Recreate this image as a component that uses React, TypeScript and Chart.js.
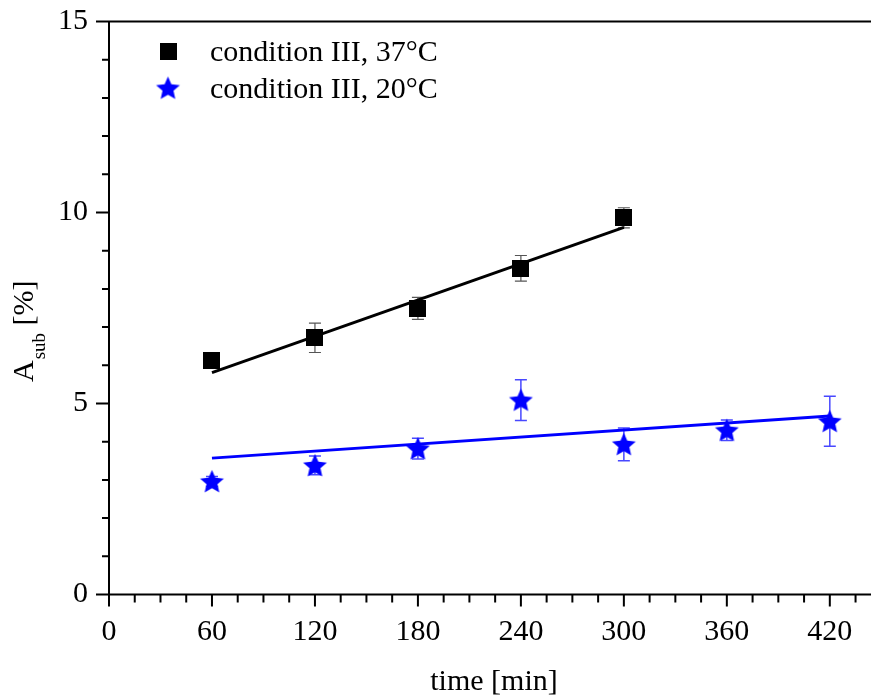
import React, { useEffect, useRef } from 'react';
import { Chart, registerables } from 'chart.js';

Chart.register(...registerables);

// ---- data ----
const time37 = [60, 120, 180, 240, 300];
const asub37 = [6.13, 6.72, 7.49, 8.54, 9.86];
const err37 = [0.1, 0.385, 0.29, 0.335, 0.265];

const time20 = [60, 120, 180, 240, 300, 360, 420];
const asub20 = [2.96, 3.38, 3.82, 5.09, 3.93, 4.3, 4.535];
const err20 = [0.13, 0.245, 0.27, 0.535, 0.43, 0.27, 0.655];

const fit37X = [60, 300];
const fit37Y = [5.81, 9.61];
const fit20X = [60, 420];
const fit20Y = [3.57, 4.67];

const legendLabels = ['condition III, 37°C', 'condition III, 20°C'];
const xTitle = 'time [min]';
const yTitleMain = 'A';
const yTitleSub = 'sub';
const yTitleRest = ' [%]';

const xMin = 0;
const xMax = 444;
const xMajorStep = 60;
const xMinorStep = 15;
const yMin = 0;
const yMax = 15;
const yMajorStep = 5;
const yMinorStep = 1;

const BLUE = '#0000ff';
const FONT = '"Liberation Serif", "Times New Roman", serif';
const FS = 30;

function makeSquare(size: number, color: string) {
  const c = document.createElement('canvas');
  c.width = size;
  c.height = size;
  const ctx = c.getContext('2d')!;
  ctx.fillStyle = color;
  ctx.fillRect(0, 0, size, size);
  return c;
}

function makeStar(r: number, innerRatio: number, color: string) {
  const s = Math.ceil(2 * r + 2);
  const c = document.createElement('canvas');
  c.width = s;
  c.height = s;
  const ctx = c.getContext('2d')!;
  const cx = s / 2;
  const cy = s / 2 + r * 0.08;
  ctx.beginPath();
  for (let i = 0; i < 10; i++) {
    const rad = i % 2 === 0 ? r : r * innerRatio;
    const a = -Math.PI / 2 + (i * Math.PI) / 5;
    const px = cx + rad * Math.cos(a);
    const py = cy + rad * Math.sin(a);
    if (i === 0) ctx.moveTo(px, py);
    else ctx.lineTo(px, py);
  }
  ctx.closePath();
  ctx.fillStyle = color;
  ctx.fill();
  return c;
}

export default function App() {
  const ref = useRef<HTMLCanvasElement>(null);

  useEffect(() => {
    const canvas = ref.current!;
    const square = makeSquare(17, '#000');
    const star = makeStar(12.5, 0.46, BLUE);

    const errorSets = [
      { xs: time37, ys: asub37, es: err37, color: '#555555', width: 1.2 },
      { xs: time20, ys: asub20, es: err20, color: 'rgba(40,40,255,0.85)', width: 1.5 },
    ];

    const decor = {
      id: 'decor',
      beforeDatasetsDraw(chart: any) {
        const ctx = chart.ctx;
        const xs = chart.scales.x;
        const ys = chart.scales.y;
        ctx.save();
        errorSets.forEach((set) => {
          ctx.strokeStyle = set.color;
          ctx.lineWidth = set.width;
          set.xs.forEach((xv, i) => {
            const px = xs.getPixelForValue(xv);
            const top = ys.getPixelForValue(set.ys[i] + set.es[i]);
            const bot = ys.getPixelForValue(set.ys[i] - set.es[i]);
            ctx.beginPath();
            ctx.moveTo(px, top);
            ctx.lineTo(px, bot);
            ctx.moveTo(px - 6, top);
            ctx.lineTo(px + 6, top);
            ctx.moveTo(px - 6, bot);
            ctx.lineTo(px + 6, bot);
            ctx.stroke();
          });
        });
        ctx.restore();
      },
      afterDraw(chart: any) {
        const ctx = chart.ctx;
        const a = chart.chartArea;
        const xs = chart.scales.x;
        const ys = chart.scales.y;
        ctx.save();
        ctx.strokeStyle = '#000';
        ctx.lineWidth = 2;
        // axes lines
        ctx.beginPath();
        ctx.moveTo(a.left, a.top);
        ctx.lineTo(a.left, a.bottom + 1);
        ctx.moveTo(a.left - 1, a.bottom);
        ctx.lineTo(chart.width, a.bottom);
        ctx.moveTo(a.left, a.top);
        ctx.lineTo(chart.width, a.top);
        ctx.stroke();
        // y ticks
        ctx.beginPath();
        for (let v = yMin; v <= yMax + 1e-9; v += yMinorStep) {
          const py = ys.getPixelForValue(v);
          const major = Math.abs(v / yMajorStep - Math.round(v / yMajorStep)) < 1e-9;
          const len = major ? 13 : 7;
          ctx.moveTo(a.left - len, py);
          ctx.lineTo(a.left, py);
        }
        // x ticks
        for (let v = xMin; v <= xMax + 1e-9; v += xMinorStep) {
          const px = xs.getPixelForValue(v);
          const major = Math.abs(v / xMajorStep - Math.round(v / xMajorStep)) < 1e-9;
          const len = major ? 12 : 8;
          ctx.moveTo(px, a.bottom);
          ctx.lineTo(px, a.bottom + len);
        }
        ctx.stroke();

        // titles
        ctx.fillStyle = '#000';
        ctx.font = `${FS}px ${FONT}`;
        ctx.textAlign = 'center';
        ctx.textBaseline = 'alphabetic';
        ctx.fillText(xTitle, 494, 690);

        ctx.save();
        ctx.translate(33, 382);
        ctx.rotate(-Math.PI / 2);
        ctx.textAlign = 'left';
        ctx.font = `${FS}px ${FONT}`;
        ctx.fillText(yTitleMain, 0, 0);
        const w1 = ctx.measureText(yTitleMain).width;
        ctx.font = `19px ${FONT}`;
        ctx.fillText(yTitleSub, w1 + 1, 12);
        const w2 = ctx.measureText(yTitleSub).width;
        ctx.font = `${FS}px ${FONT}`;
        ctx.fillText(yTitleRest, w1 + 1 + w2, 0);
        ctx.restore();

        // legend
        ctx.drawImage(square, 168 - square.width / 2, 51 - square.height / 2);
        ctx.drawImage(star, 168 - star.width / 2, 88 - star.height / 2);
        ctx.textAlign = 'left';
        ctx.font = `${FS}px ${FONT}`;
        ctx.fillText(legendLabels[0], 210, 61);
        ctx.fillText(legendLabels[1], 210, 98);
        ctx.restore();
      },
    };

    const chart = new Chart(canvas, {
      type: 'scatter',
      data: {
        datasets: [
          {
            label: 'fit37',
            data: fit37X.map((x, i) => ({ x, y: fit37Y[i] })),
            showLine: true,
            borderColor: '#000',
            borderWidth: 3,
            pointRadius: 0,
            order: 0,
          },
          {
            label: 'fit20',
            data: fit20X.map((x, i) => ({ x, y: fit20Y[i] })),
            showLine: true,
            borderColor: BLUE,
            borderWidth: 3,
            pointRadius: 0,
            order: 0,
          },
          {
            label: legendLabels[0],
            data: time37.map((x, i) => ({ x, y: asub37[i] })),
            pointStyle: square as any,
            pointRadius: 9,
            order: 1,
          },
          {
            label: legendLabels[1],
            data: time20.map((x, i) => ({ x, y: asub20[i] })),
            pointStyle: star as any,
            pointRadius: 9,
            order: 1,
          },
        ],
      },
      options: {
        animation: false,
        responsive: false,
        devicePixelRatio: 1,
        layout: { autoPadding: false, padding: { top: 21.5, right: 0, left: 0, bottom: 0 } },
        plugins: { legend: { display: false }, tooltip: { enabled: false } },
        scales: {
          x: {
            type: 'linear',
            min: xMin,
            max: xMax,
            grid: { display: false, drawTicks: false },
            border: { display: false },
            ticks: {
              stepSize: xMajorStep,
              includeBounds: false,
              padding: 20,
              color: '#000',
              font: { family: FONT, size: FS },
              callback: (v: any) => (Number(v) % xMajorStep === 0 ? String(v) : ''),
            },
            afterFit: (s: any) => {
              s.height = 102.5;
              s.paddingLeft = 0;
              s.paddingRight = 0;
            },
          },
          y: {
            type: 'linear',
            min: yMin,
            max: yMax,
            grid: { display: false, drawTicks: false },
            border: { display: false },
            ticks: {
              stepSize: yMajorStep,
              padding: 21,
              color: '#000',
              font: { family: FONT, size: FS },
            },
            afterFit: (s: any) => {
              s.width = 109;
              s.paddingTop = 0;
              s.paddingBottom = 0;
            },
          },
        },
      },
      plugins: [decor],
    });
    return () => chart.destroy();
  }, []);

  return (
    <div style={{ position: 'absolute', left: 0, top: 0, width: 871, height: 697, background: '#fff' }}>
      <canvas ref={ref} width={871} height={697} style={{ width: 871, height: 697, display: 'block' }} />
    </div>
  );
}
